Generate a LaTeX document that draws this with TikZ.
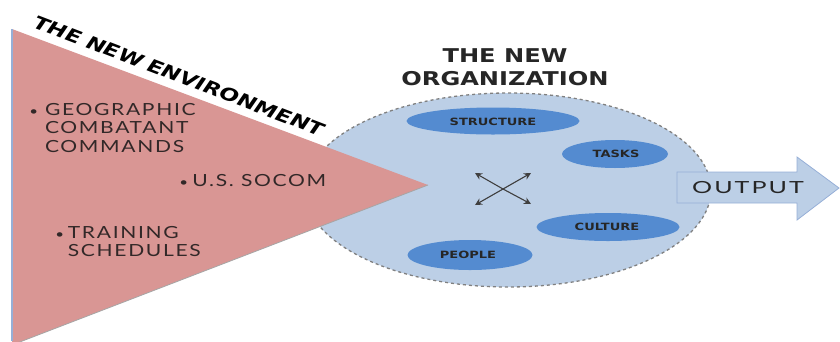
\documentclass[tikz,border=0pt]{standalone}
\usepackage{fontspec}
\setmainfont{Lato}
\newfontfamily\spaced[LetterSpace=8]{Lato}
\newfontfamily\heavy{DejaVu Sans}
\usetikzlibrary{shapes.geometric,arrows.meta}
\definecolor{trifill}{RGB}{217,150,148}
\definecolor{orgfill}{RGB}{188,207,230}
\definecolor{innerblue}{RGB}{84,139,208}
\definecolor{textgray}{RGB}{50,40,40}
\definecolor{edgeblue}{RGB}{150,175,215}
\newcommand{\smallbul}{{\fontsize{12}{12}\selectfont\textbullet}}
\tikzset{
  bullettext/.style={font=\spaced\fontsize{16.7}{18.5}\selectfont, text=textgray, align=left, anchor=north west, inner sep=0pt, xscale=1.26},
  innerell/.style={ellipse, fill=innerblue, inner sep=0pt},
  innerlabel/.style={font=\heavy\bfseries\fontsize{10}{11}\selectfont, text=black!85, inner sep=0pt, xscale=1.3},
  crossarrow/.style={-{Stealth[length=7pt,width=7pt]}, line width=1.1pt, draw=black!75},
  heading/.style={font=\heavy\bfseries\fontsize{19}{23}\selectfont, text=black!85, align=center, inner sep=0pt},
  envword/.style={font=\heavy\bfseries\itshape\fontsize{18}{20}\selectfont, text=black, inner sep=0pt, rotate=-21, xscale=1.25}
}
\begin{document}
\begin{tikzpicture}[x=1pt,y=-1pt]
\useasboundingbox (0,0) rectangle (840,341);
% organization ellipse
\node[ellipse, fill=orgfill, draw=black!50, dashed, line width=1.3pt, minimum width=406pt, minimum height=194pt] (org) at (508,190) {};
% inner ellipses
\node[innerell, minimum width=173pt, minimum height=27pt] (structure) at (493,121) {};
\node[innerlabel] (structurelabel) at (493,122) {STRUCTURE};
\node[innerell, minimum width=106pt, minimum height=28pt] (tasks) at (615,154) {};
\node[innerlabel] (taskslabel) at (616,154) {TASKS};
\node[innerell, minimum width=143pt, minimum height=28pt] (culture) at (608,227) {};
\node[innerlabel] (culturelabel) at (607,227) {CULTURE};
\node[innerell, minimum width=125pt, minimum height=30pt] (people) at (470,255) {};
\node[innerlabel] (peoplelabel) at (468,255) {PEOPLE};
% cross arrows
\coordinate (c) at (503,189);
\coordinate (nw) at (475,173);
\coordinate (ne) at (531,173);
\coordinate (sw) at (475,205);
\coordinate (se) at (531,204);
\draw[crossarrow] (c) -- (nw);
\draw[crossarrow] (c) -- (ne);
\draw[crossarrow] (c) -- (sw);
\draw[crossarrow] (c) -- (se);
% environment triangle
\fill[trifill] (12,29) -- (428,185) -- (12,345) -- cycle;
\draw[edgeblue, line width=1.2pt] (12,29) -- (12,341);
\draw[black!35, line width=0.8pt] (428,185) -- (12,345);
\node[envword] (envthe) at (58,30) {THE};
\node[envword] (envnew) at (115,51.5) {NEW};
\node[envword] (envenv) at (236,97.5) {ENVIRONMENT};
% bullets
\node[bullettext] (geo) at (29,103) {\makebox[12.5pt][l]{\smallbul}GEOGRAPHIC\\\hspace*{12.5pt}COMBATANT\\\hspace*{12.5pt}COMMANDS};
\node[bullettext] (socom) at (179,174) {\makebox[10.5pt][l]{\smallbul}U.S. SOCOM};
\node[bullettext] (train) at (55,226) {\makebox[10pt][l]{\smallbul}TRAINING\\\hspace*{10pt}SCHEDULES};
% org heading
\node[heading, anchor=north, xscale=1.27] (orgtitle) at (505,48) {THE NEW\\ORGANIZATION};
% output arrow
\draw[fill=orgfill, draw=edgeblue, line width=0.8pt] (677,172) -- (797,172) -- (797,157) -- (839,188) -- (797,220) -- (797,203) -- (677,203) -- cycle;
\node[font=\spaced\fontsize{16.7}{18}\selectfont, text=black!85, inner sep=0pt, xscale=1.5] (output) at (748,188) {OUTPUT};
\end{tikzpicture}
\end{document}
